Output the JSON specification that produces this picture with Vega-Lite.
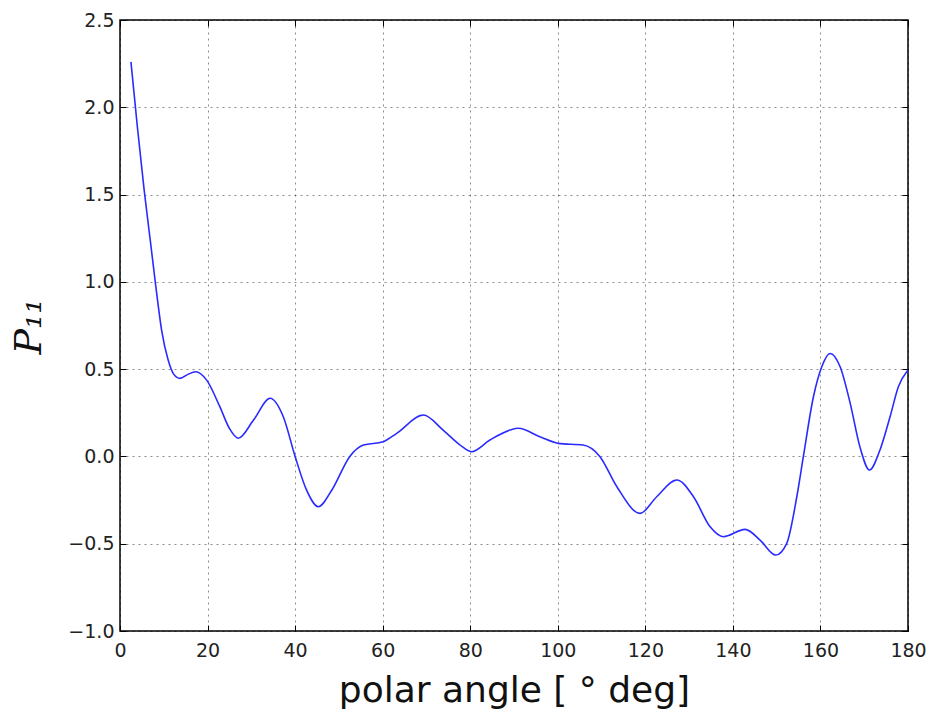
{
  "$schema": "https://vega.github.io/schema/vega-lite/v6.json",
  "autosize": "none",
  "width": 788,
  "height": 611,
  "padding": {"left": 120, "top": 20, "right": 24, "bottom": 80},
  "background": "white",
  "config": {
    "view": {"stroke": "black", "strokeWidth": 1.5},
    "axis": {
      "domain": false,
      "grid": true,
      "gridColor": "#000000",
      "gridOpacity": 0.45,
      "gridDash": [2, 4],
      "gridWidth": 1,
      "tickColor": "#000000",
      "tickSize": -6,
      "tickWidth": 1,
      "labelFont": "DejaVu Sans",
      "labelFontSize": 19,
      "labelColor": "#222222",
      "titleColor": "#111111",
      "titleFontWeight": "normal"
    }
  },
  "data": {
    "values": [
      {"angle": 2.5, "p11": 2.26},
      {"angle": 4.0, "p11": 1.88},
      {"angle": 5.5, "p11": 1.53},
      {"angle": 7.0, "p11": 1.22},
      {"angle": 8.2, "p11": 0.97},
      {"angle": 9.5, "p11": 0.724},
      {"angle": 11.0, "p11": 0.552},
      {"angle": 12.3, "p11": 0.47},
      {"angle": 13.7, "p11": 0.447},
      {"angle": 15.5, "p11": 0.47},
      {"angle": 17.3, "p11": 0.485},
      {"angle": 19.8, "p11": 0.437},
      {"angle": 22.8, "p11": 0.285},
      {"angle": 25.0, "p11": 0.16},
      {"angle": 27.0, "p11": 0.104},
      {"angle": 30.5, "p11": 0.208},
      {"angle": 34.3, "p11": 0.333},
      {"angle": 37.3, "p11": 0.227},
      {"angle": 40.0, "p11": 0.0},
      {"angle": 42.6, "p11": -0.192},
      {"angle": 45.3, "p11": -0.288},
      {"angle": 48.4, "p11": -0.192},
      {"angle": 52.5, "p11": 0.0},
      {"angle": 55.6, "p11": 0.065},
      {"angle": 60.1, "p11": 0.084},
      {"angle": 63.2, "p11": 0.132},
      {"angle": 69.3, "p11": 0.237},
      {"angle": 73.8, "p11": 0.151},
      {"angle": 77.7, "p11": 0.065},
      {"angle": 80.3, "p11": 0.027},
      {"angle": 84.5, "p11": 0.094},
      {"angle": 89.1, "p11": 0.151},
      {"angle": 91.0, "p11": 0.161},
      {"angle": 95.9, "p11": 0.113},
      {"angle": 100.1, "p11": 0.075},
      {"angle": 105.8, "p11": 0.065},
      {"angle": 109.6, "p11": 0.0},
      {"angle": 113.5, "p11": -0.174},
      {"angle": 118.8, "p11": -0.326},
      {"angle": 122.6, "p11": -0.231},
      {"angle": 127.2, "p11": -0.135},
      {"angle": 131.0, "p11": -0.231},
      {"angle": 134.8, "p11": -0.403},
      {"angle": 137.8, "p11": -0.46},
      {"angle": 142.8, "p11": -0.418},
      {"angle": 146.2, "p11": -0.479},
      {"angle": 149.8, "p11": -0.565},
      {"angle": 152.3, "p11": -0.498},
      {"angle": 154.6, "p11": -0.231},
      {"angle": 156.1, "p11": 0.0},
      {"angle": 158.4, "p11": 0.342},
      {"angle": 160.3, "p11": 0.514},
      {"angle": 162.2, "p11": 0.59},
      {"angle": 164.5, "p11": 0.514},
      {"angle": 166.8, "p11": 0.304},
      {"angle": 169.0, "p11": 0.056},
      {"angle": 171.2, "p11": -0.078},
      {"angle": 173.6, "p11": 0.037},
      {"angle": 175.9, "p11": 0.227},
      {"angle": 177.8, "p11": 0.399},
      {"angle": 180.0, "p11": 0.495}
    ]
  },
  "layer": [
    {
      "mark": {"type": "line", "color": "#2b2bff", "strokeWidth": 1.6, "interpolate": "monotone", "clip": true},
      "encoding": {
        "x": {
          "field": "angle", "type": "quantitative",
          "scale": {"domain": [0, 180], "nice": false, "zero": false},
          "axis": {
            "values": [0, 20, 40, 60, 80, 100, 120, 140, 160, 180],
            "format": "d",
            "labelPadding": 16,
            "labelFlush": false,
            "title": "polar angle [ °  deg]",
            "titleFont": "DejaVu Sans",
            "titleFontSize": 36,
            "titleBaseline": "alphabetic",
            "titleY": 70
          }
        },
        "y": {
          "field": "p11", "type": "quantitative",
          "scale": {"domain": [-1.0, 2.5], "nice": false, "zero": false},
          "axis": {
            "values": [-1.0, -0.5, 0.0, 0.5, 1.0, 1.5, 2.0, 2.5],
            "format": ".1f",
            "labelPadding": 12,
            "labelFlush": false,
            "title": "P₁₁",
            "titleFont": "DejaVu Serif",
            "titleFontStyle": "italic",
            "titleFontSize": 38,
            "titleBaseline": "alphabetic",
            "titleX": -80,
            "titleY": 306
          }
        }
      }
    },
    {
      "mark": {"type": "point", "opacity": 0},
      "encoding": {
        "x": {
          "field": "angle", "type": "quantitative",
          "axis": {"orient": "top", "values": [0, 20, 40, 60, 80, 100, 120, 140, 160, 180], "labels": false, "grid": false, "title": null}
        },
        "y": {
          "field": "p11", "type": "quantitative",
          "axis": {"orient": "right", "values": [-1.0, -0.5, 0.0, 0.5, 1.0, 1.5, 2.0, 2.5], "labels": false, "grid": false, "title": null}
        }
      }
    }
  ],
  "resolve": {"axis": {"x": "independent", "y": "independent"}}
}
